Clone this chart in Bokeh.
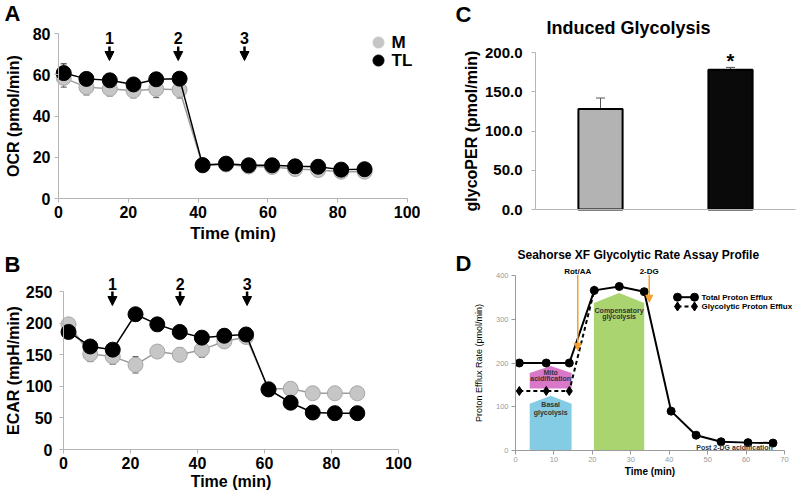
from bokeh.plotting import figure
from bokeh.layouts import row, column
from bokeh.models import (Range1d, Label, Whisker, TeeHead, ColumnDataSource, Arrow,
                          NormalHead, FixedTicker, NumeralTickFormatter)
from bokeh.embed import file_html
from bokeh.resources import INLINE

FONT = "Liberation Sans"

# ---------------- data ----------------
time_ab = [1.5, 8, 14.7, 21.5, 28, 34.7, 41.3, 48, 54.5, 61.2, 67.8, 74.4, 81, 87.7]
ocr_m = [58.5, 54, 53.2, 52.3, 53.1, 52.7, 16, 16.5, 15.5, 15.3, 14.3, 13.8, 13, 13]
ocr_m_err = [4.5, 3.8, 3.5, 3.5, 4.2, 4, 1, 1, 1, 1, 1, 1, 1, 1]
ocr_tl = [60.8, 58, 57.3, 55.3, 57.8, 58.1, 16.2, 16.9, 16.1, 16.1, 15.6, 15.4, 14, 14.2]
ocr_tl_err = [4.5, 1.5, 1.5, 1.5, 1.5, 1.5, 1, 1, 1, 1, 1, 1, 1, 1]
ecar_m = [198, 151, 147, 134, 155, 150, 158, 171, 178, 96, 96, 89, 89, 89]
ecar_m_err = [5, 12, 12, 13, 8, 11, 12, 5, 4, 4, 3, 3, 3, 3]
ecar_tl = [186, 163, 158, 214, 198, 186, 177, 180, 182, 95, 74, 58.5, 57.5, 57.5]
ecar_tl_err = [4, 4, 4, 4, 4, 4, 4, 3, 3, 3, 3, 3, 3, 3]
injections_a = [14.6, 34.3, 53.3]
injections_b = [14.6, 34.8, 54.8]
injection_labels = ["1", "2", "3"]
series_names = ["M", "TL"]

groups = ["M", "TL"]
glyco_per = [128, 178]
glyco_per_err = [14, 3]

time_d = [1, 8, 14, 20.5, 27, 33.5, 40.5, 47, 53.5, 60.5, 67]
total_efflux = [200, 200, 200, 366, 375, 363, 90, 35, 20, 18, 17]
glyco_efflux = [136, 136, 136, 366]
# shaded regions: (x start, x end, bottom, shoulder, peak)
basal_region = [3.7, 14.6, 0, 107, 125]
mito_region = [3.7, 14.6, 142, 177, 193]
comp_region = [20.4, 33.5, 0, 337, 360]
rot_aa_time, rot_aa_tip = 16.2, 229
dg_time, dg_tip = 34.8, 339

# ---------------- helpers ----------------
def make_fig(fig_x, fig_y, w, h, xcal, ycal):
    """xcal=(px0, px1, d0, d1) page pixel <-> data; ycal=(py0, py1, d0, d1)."""
    px0, px1, xd0, xd1 = xcal
    py0, py1, yd0, yd1 = ycal
    s = (px1 - px0) / (xd1 - xd0)
    t = (py0 - py1) / (yd1 - yd0)
    xr = (xd0 - (px0 - fig_x) / s, xd0 + (fig_x + w - px0) / s)
    yr = (yd0 - (fig_y + h - py0) / t, yd0 + (py0 - fig_y) / t)
    p = figure(width=w, height=h, x_range=Range1d(*xr), y_range=Range1d(*yr),
               output_backend="svg", toolbar_location=None,
               min_border_left=0, min_border_right=0, min_border_top=0, min_border_bottom=0)
    p.grid.visible = False
    p.outline_line_color = None
    p.background_fill_color = "white"
    p.border_fill_color = "white"
    p.xaxis.fixed_location = yd0
    p.yaxis.fixed_location = xd0
    def tx(px):
        return xd0 + (px - px0) / s
    def ty(py):
        return yd0 + (py0 - py) / t
    return p, tx, ty


def style(p, tick_px, label_px, axis_color="#b5b5b5", tick_color="black",
          label_color="black", label_bold=True, tick_bold=True, font=FONT):
    for ax in p.axis:
        ax.axis_line_color = axis_color
        ax.axis_line_width = 1
        ax.major_tick_line_color = axis_color
        ax.major_tick_out = 4
        ax.major_tick_in = 0
        ax.minor_tick_line_color = None
        ax.major_label_text_font = font
        ax.major_label_text_font_size = f"{tick_px}px"
        ax.major_label_text_font_style = "bold" if tick_bold else "normal"
        ax.major_label_text_color = tick_color
        ax.axis_label_text_font = font
        ax.axis_label_text_font_size = f"{label_px}px"
        ax.axis_label_text_font_style = "bold" if label_bold else "normal"
        ax.axis_label_text_color = label_color


def lab(p, x, y, text, size, color="black", bold=True, align="center",
        baseline="middle", font=FONT):
    p.add_layout(Label(x=x, y=y, text=text, text_font=font,
                       text_font_size=f"{size}px",
                       text_font_style="bold" if bold else "normal",
                       text_color=color, text_align=align, text_baseline=baseline))


def whisk(p, xs, vals, errs, color, head=6):
    src = ColumnDataSource(dict(x=xs, upper=[v + e for v, e in zip(vals, errs)],
                                lower=[v - e for v, e in zip(vals, errs)]))
    p.add_layout(Whisker(base="x", upper="upper", lower="lower", source=src,
                         line_color=color, line_width=1,
                         upper_head=TeeHead(size=head, line_color=color, line_width=1),
                         lower_head=TeeHead(size=head, line_color=color, line_width=1)))


GRAY_FILL, GRAY_LINE, GRAY_CONN = "#c6c6c6", "#a8a8a8", "#9c9c9c"
LW, RW, TH, BH = 420, 379, 248, 245

# ---------------- Panel A ----------------
pA, ax_, ay_ = make_fig(0, 0, LW, TH, (58, 407, 0, 100), (198, 33, 0, 80))
style(pA, 16, 17)
pA.xaxis.ticker = FixedTicker(ticks=[0, 20, 40, 60, 80, 100])
pA.yaxis.ticker = FixedTicker(ticks=[0, 20, 40, 60, 80])
pA.xaxis.bounds = (0, 100)
pA.yaxis.bounds = (0, 80)
pA.xaxis.axis_label = "Time (min)"
pA.yaxis.axis_label = "OCR (pmol/min)"
pA.yaxis.axis_label_text_font_size = "16px"
pA.xaxis.major_label_standoff = 3
pA.xaxis.axis_label_standoff = 3
pA.yaxis.major_label_standoff = 4
pA.yaxis.axis_label_standoff = 8

whisk(pA, time_ab, ocr_m, ocr_m_err, "#555555")
whisk(pA, time_ab, ocr_tl, ocr_tl_err, "#222222")
pA.line(time_ab, ocr_m, line_color=GRAY_CONN, line_width=1.5)
pA.scatter(time_ab, ocr_m, size=15, fill_color=GRAY_FILL, line_color=GRAY_LINE)
pA.line(time_ab, ocr_tl, line_color="black", line_width=1.5)
pA.scatter(time_ab, ocr_tl, size=15, fill_color="black", line_color="black")
for xi, t in zip(injections_a, injection_labels):
    pA.add_layout(Arrow(x_start=xi, y_start=ay_(46), x_end=xi, y_end=ay_(60),
                        line_width=2.5, line_color="black",
                        end=NormalHead(size=9, fill_color="black", line_color="black")))
    lab(pA, xi, ay_(37.5), t, 16)
# legend
pA.scatter([ax_(378)], [ay_(42)], size=11, fill_color=GRAY_FILL, line_color=GRAY_FILL)
pA.scatter([ax_(378)], [ay_(60)], size=11, fill_color="black", line_color="black")
lab(pA, ax_(391), ay_(42), series_names[0], 17, align="left")
lab(pA, ax_(391), ay_(60), series_names[1], 17, align="left")
lab(pA, ax_(4), ay_(13), "A", 22, align="left")

# ---------------- Panel B ----------------
pB, bx, by = make_fig(0, TH, LW, BH, (63, 398, 0, 100), (449, 291, 0, 250))
style(pB, 16, 16)
pB.xaxis.ticker = FixedTicker(ticks=[0, 20, 40, 60, 80, 100])
pB.yaxis.ticker = FixedTicker(ticks=[0, 50, 100, 150, 200, 250])
pB.xaxis.bounds = (0, 100)
pB.yaxis.bounds = (0, 250)
pB.xaxis.axis_label = "Time (min)"
pB.yaxis.axis_label = "ECAR (mpH/min)"
pB.xaxis.major_label_standoff = 3
pB.xaxis.axis_label_standoff = 1
pB.yaxis.major_label_standoff = 7
pB.yaxis.axis_label_standoff = 1

whisk(pB, time_ab, ecar_m, ecar_m_err, "#555555")
whisk(pB, time_ab, ecar_tl, ecar_tl_err, "#222222")
pB.line(time_ab, ecar_m, line_color=GRAY_CONN, line_width=1.5)
pB.scatter(time_ab, ecar_m, size=15, fill_color=GRAY_FILL, line_color=GRAY_LINE)
pB.line(time_ab, ecar_tl, line_color="black", line_width=1.5)
pB.scatter(time_ab, ecar_tl, size=15, fill_color="black", line_color="black")
for xi, t in zip(injections_b, injection_labels):
    pB.add_layout(Arrow(x_start=xi, y_start=by(291), x_end=xi, y_end=by(305),
                        line_width=2.5, line_color="black",
                        end=NormalHead(size=9, fill_color="black", line_color="black")))
    lab(pB, xi, by(283), t, 16)
lab(pB, bx(4), by(264), "B", 22, align="left")

# ---------------- Panel C ----------------
pC, cx, cy = make_fig(LW, 0, RW, TH, (535, 665, 0, 1), (209, 52, 0, 200))
style(pC, 15, 16)
pC.xaxis.ticker = FixedTicker(ticks=[])
pC.xaxis.major_tick_line_color = None
pC.xaxis.bounds = (0, 2)
pC.yaxis.ticker = FixedTicker(ticks=[0, 50, 100, 150, 200])
pC.yaxis.bounds = (0, 200)
pC.yaxis.formatter = NumeralTickFormatter(format="0.0")
pC.yaxis.axis_label = "glycoPER (pmol/min)"
pC.yaxis.major_label_standoff = 9
pC.yaxis.axis_label_standoff = 2
bar_pos = [i + 0.5 for i in range(len(groups))]
whisk(pC, bar_pos, glyco_per, glyco_per_err, "#555555", head=9)
pC.vbar(x=bar_pos, top=glyco_per, width=0.34, fill_color=["#b3b3b3", "#0a0a0a"],
        line_color="black", line_width=2)
lab(pC, bar_pos[1], glyco_per[1] + glyco_per_err[1] + 8, "*", 20)
lab(pC, cx(628), cy(27), "Induced Glycolysis", 18)
lab(pC, cx(455), cy(14), "C", 22, align="left")

# ---------------- Panel D ----------------
pD, dx, dy = make_fig(LW, TH, RW, BH, (515, 784, 0, 70), (450, 275, 0, 400))
style(pD, 7.5, 10, axis_color="#9a9a9a", tick_color="#9a9a9a", tick_bold=False)
pD.xaxis.ticker = FixedTicker(ticks=[0, 10, 20, 30, 40, 50, 60, 70])
pD.yaxis.ticker = FixedTicker(ticks=[0, 100, 200, 300, 400])
pD.xaxis.bounds = (0, 70)
pD.yaxis.bounds = (0, 400)
pD.xaxis.axis_label = "Time (min)"
pD.yaxis.axis_label = "Proton Efflux Rate (pmol/min)"
pD.yaxis.axis_label_text_font_style = "normal"
pD.yaxis.axis_label_text_font_size = "9px"
pD.xaxis.major_label_standoff = 2
pD.xaxis.axis_label_standoff = 1
pD.yaxis.major_label_standoff = 3
pD.yaxis.axis_label_standoff = 9


def pentagon(reg):
    x0, x1, b, s, pk = reg
    xm = (x0 + x1) / 2
    return [x0, x0, xm, x1, x1], [b, s, pk, s, b]

shapes = [basal_region, mito_region, comp_region]
xs, ys = zip(*[pentagon(r) for r in shapes])
pD.patches(list(xs), list(ys), fill_color=["#84cce4", "#d977c9", "#a9d46f"], line_color=None)
lab(pD, (mito_region[0] + mito_region[1]) / 2, 179, "Mito", 7, color="#333333")
lab(pD, (mito_region[0] + mito_region[1]) / 2, 164, "acidification", 7, color="#333333")
lab(pD, (basal_region[0] + basal_region[1]) / 2, 105, "Basal", 7, color="#333333")
lab(pD, (basal_region[0] + basal_region[1]) / 2, 88, "glycolysis", 7, color="#333333")
lab(pD, (comp_region[0] + comp_region[1]) / 2, 321, "Compensatory", 7, color="#333333")
lab(pD, (comp_region[0] + comp_region[1]) / 2, 306, "glycolysis", 7, color="#333333")
lab(pD, 57, 7, "Post 2-DG acidification", 7, color="#333333")

pD.line(time_d[:len(glyco_efflux)], glyco_efflux, line_color="black", line_width=2, line_dash="4 3")
pD.scatter(time_d[:len(glyco_efflux)], glyco_efflux, marker="diamond", size=9,
           fill_color="black", line_color="black")
pD.line(time_d, total_efflux, line_color="black", line_width=2)
pD.scatter(time_d, total_efflux, size=8, fill_color="black", line_color="black")

ORANGE = "#f5a02c"
for t, tip, name in [(rot_aa_time, rot_aa_tip, "Rot/AA"), (dg_time, dg_tip, "2-DG")]:
    pD.add_layout(Arrow(x_start=t, y_start=402, x_end=t, y_end=tip, line_color=ORANGE,
                        line_width=1.5, end=NormalHead(size=7, fill_color=ORANGE, line_color=ORANGE)))
    lab(pD, t, dy(271), name, 8)

# legend of D
for yy, dash, mk in [(296.7, "solid", "circle"), (306, "4 3", "diamond")]:
    pD.line([dx(677), dx(694)], [dy(yy), dy(yy)], line_color="black", line_width=2, line_dash=dash)
    pD.scatter([dx(677), dx(694)], [dy(yy), dy(yy)], marker=mk, size=8 if mk == "circle" else 9,
               fill_color="black", line_color="black")
lab(pD, dx(701), dy(296.7), "Total Proton Efflux", 8, align="left")
lab(pD, dx(701), dy(306), "Glycolytic Proton Efflux", 8, align="left")
lab(pD, dx(638), dy(254), "Seahorse XF Glycolytic Rate Assay Profile", 12)
lab(pD, dx(455), dy(263), "D", 22, align="left")

layout = column(row(pA, pC), row(pB, pD))
open("out.html", "w").write(file_html(layout, INLINE))
